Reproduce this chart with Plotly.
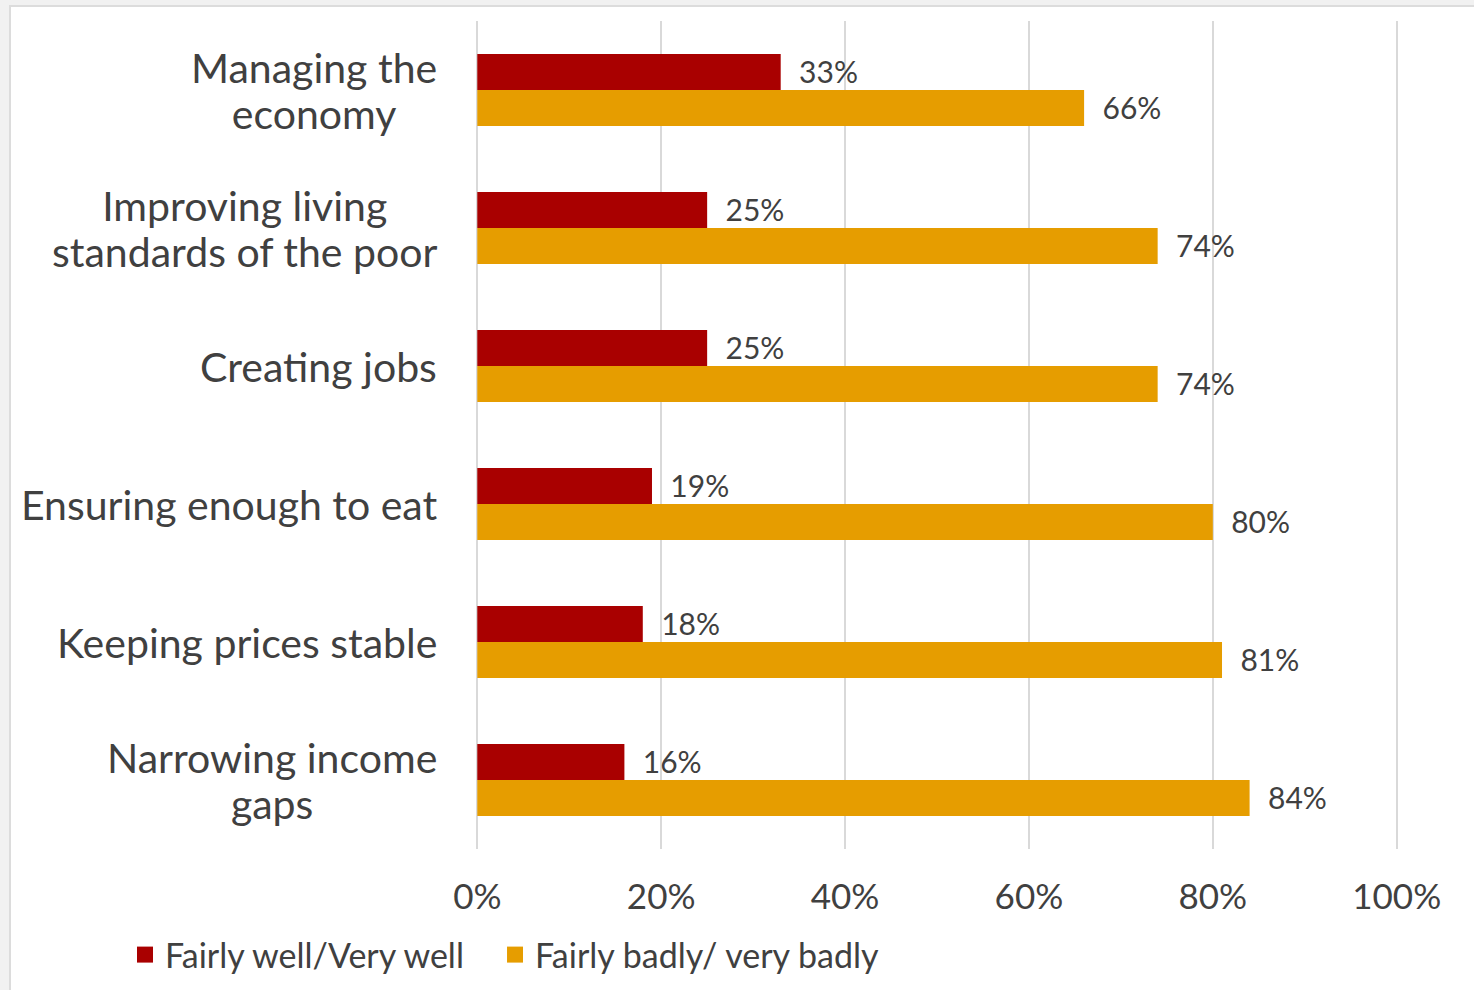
import plotly.graph_objects as go

categories = ["Managing the<br>economy", "Improving living<br>standards of the poor", "Creating jobs",
              "Ensuring enough to eat", "Keeping prices stable", "Narrowing income<br>gaps"]
well = [33, 25, 25, 19, 18, 16]
badly = [66, 74, 74, 80, 81, 84]
series_names = ["Fairly well/Very well", "Fairly badly/ very badly"]
tick_vals = [0, 20, 40, 60, 80, 100]
tick_text = ["0%", "20%", "40%", "60%", "80%", "100%"]

FONT = "Lato, 'Open Sans', sans-serif"
TXT = "#404040"
RED = "#A90000"
ORANGE = "#E69D00"
NB = "\u00a0\u00a0"

L, R, T, B = 475, 75, 21, 141
W, H = 1474, 990
pw = W - L - R
ph = H - T - B

fig = go.Figure()
for vals, name, col in [(well, series_names[0], RED), (badly, series_names[1], ORANGE)]:
    fig.add_trace(go.Bar(y=categories, x=vals, orientation="h", name=name, showlegend=False,
                         marker=dict(color=col, line=dict(width=0)),
                         text=[f"{NB}{v}%" for v in vals], textposition="outside",
                         textfont=dict(family=FONT, size=40, color=TXT), cliponaxis=False))
legend_names = [series_names[0] + "\u00a0" * 3, series_names[1]]
for name, col in [(legend_names[0], RED), (legend_names[1], ORANGE)]:
    fig.add_trace(go.Scatter(x=[None], y=[None], mode="markers", name=name,
                             marker=dict(symbol="square", size=17, color=col), showlegend=True))

annotations = []
for c in categories:
    lines = c.split("<br>")
    txt = "<br>".join(f"<span style='font-size:41px'>{ln}</span>" for ln in lines)
    annotations.append(dict(x=-36 / pw, xref="paper", y=c, yref="y", text=txt, showarrow=False,
                            xanchor="right", yanchor="middle", align="center",
                            font=dict(family=FONT, size=35, color=TXT)))

shapes = [dict(type="rect", xref="paper", yref="paper", layer="below",
               x0=(10 - L) / pw, x1=(W + 5 - L) / pw,
               y0=(H - B - (H + 5)) / ph, y1=(H - B - 6) / ph,
               fillcolor="white", line=dict(color="#DCDCDC", width=2))]

fig.update_layout(
    width=W, height=H,
    margin=dict(l=L, r=R, t=T, b=B, pad=0, autoexpand=False),
    paper_bgcolor="#F1F1F1", plot_bgcolor="rgba(0,0,0,0)",
    barmode="group", bargap=0.478, bargroupgap=0,
    font=dict(family=FONT, color=TXT),
    xaxis=dict(range=[-0.25, 100.25], tickvals=tick_vals, ticktext=tick_text,
               showgrid=True, gridcolor="#D9D9D9", gridwidth=2,
               zeroline=False, showline=False,
               ticks="outside", ticklen=17, tickcolor="rgba(0,0,0,0)",
               tickfont=dict(family=FONT, size=35, color=TXT), fixedrange=True),
    yaxis=dict(categoryorder="array", categoryarray=categories, autorange="reversed",
               showticklabels=False, showgrid=False, zeroline=False, showline=False),
    legend=dict(orientation="h", x=(125 - L) / pw, xanchor="left",
                y=(H - B - 955) / ph, yanchor="middle",
                font=dict(family=FONT, size=34, color=TXT),
                bgcolor="rgba(0,0,0,0)", itemwidth=30, traceorder="normal"),
    annotations=annotations,
    shapes=shapes,
    showlegend=True,
)

fig.write_html("out.html", config={"displayModeBar": False},
               post_script="document.body.style.margin='0';")
